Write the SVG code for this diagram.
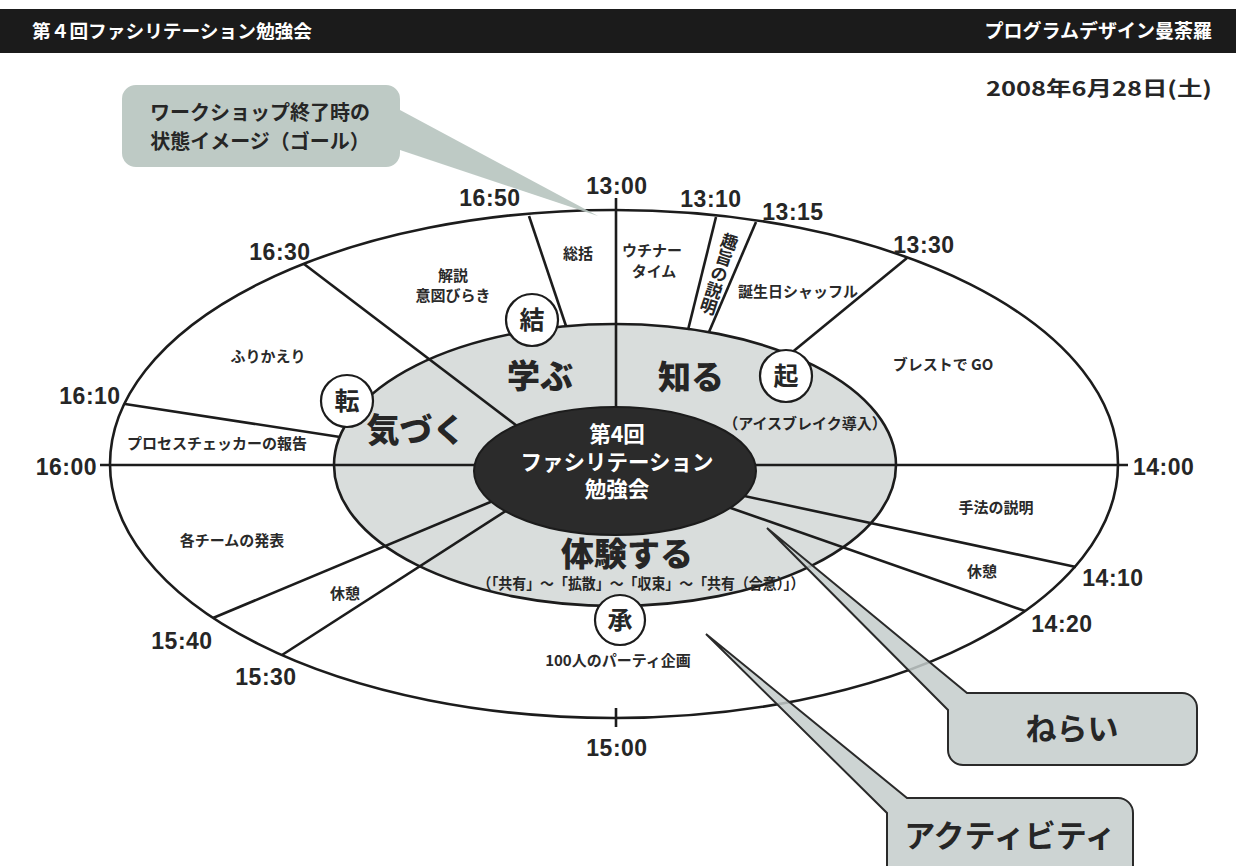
<svg xmlns="http://www.w3.org/2000/svg" width="1236" height="866" viewBox="0 0 1236 866">
<style>
.jp{font-family:"Noto Sans CJK JP","Noto Sans CJK SC",sans-serif;font-weight:700}
.tm{font-family:"Liberation Sans","Noto Sans CJK JP",sans-serif;font-weight:700;font-size:23px;fill:#262626;text-anchor:middle;letter-spacing:0.5px}
.sm{font-size:15px;fill:#2a2a2a;text-anchor:middle}
.big{font-size:33px;fill:#262626;text-anchor:middle;font-weight:900}
.ch{font-size:25px;fill:#262626;text-anchor:middle}
.ln{stroke:#1c1c1c;stroke-width:2.6;fill:none;stroke-linecap:butt}
.ring{stroke:#1c1c1c;stroke-width:2.6}
.circ{fill:#ffffff;stroke:#1c1c1c;stroke-width:2.2}
.call{fill:#c4cccb;fill-opacity:0.85;stroke:#2a2a2a;stroke-width:2}
</style>
<rect width="1236" height="866" fill="#ffffff"/>
<g id="header">
<rect x="0" y="9" width="1236" height="44" fill="#1b1b1b"/>
<text x="32" y="38" class="jp" font-size="18.5" fill="#ffffff" textLength="280" lengthAdjust="spacingAndGlyphs">第４回ファシリテーション勉強会</text>
<text x="1212" y="38" class="jp" font-size="19" fill="#ffffff" text-anchor="end">プログラムデザイン曼荼羅</text>
<text x="1212" y="96" class="jp" font-size="20" fill="#262626" text-anchor="end" textLength="226" lengthAdjust="spacingAndGlyphs">2008年6月28日(土)</text>
</g>
<g id="outer-ring">
<ellipse cx="614" cy="464" rx="504" ry="254" fill="#ffffff" class="ring"/>
</g>
<g id="middle-ring">
<ellipse cx="615" cy="465" rx="281" ry="141" fill="#d9dddc" class="ring"/>
</g>
<g id="connectors" class="ln">
<path d="M616 198V420"/>
<path d="M100 465H490"/>
<path d="M740 465H1128"/>
<path d="M616 708V727"/>
<path d="M529 216L566 326"/>
<path d="M716 217L688 330"/>
<path d="M756 222L709 332"/>
<path d="M907 258L790 354"/>
<path d="M304 264L525 432"/>
<path d="M125 404L340 437"/>
<path d="M213 618L500 498"/>
<path d="M282 655L515 505"/>
<path d="M735 494L1076 567"/>
<path d="M725 506L1025 611"/>
</g>
<g id="center">
<ellipse cx="615" cy="471" rx="141" ry="64" fill="#2b2b2b" stroke="#1c1c1c" stroke-width="2"/>
<text class="jp" font-size="21.5" fill="#ffffff" text-anchor="middle"><tspan x="617" y="442">第4回</tspan><tspan x="617" y="470">ファシリテーション</tspan><tspan x="617" y="497">勉強会</tspan></text>
</g>
<g id="phase-ki"><circle cx="786" cy="376" r="26" class="circ"/><text x="786" y="385" class="jp ch">起</text></g>
<g id="phase-sho"><circle cx="620" cy="620" r="25" class="circ"/><text x="620" y="629" class="jp ch">承</text></g>
<g id="phase-ten"><circle cx="347" cy="401" r="26" class="circ"/><text x="347" y="410" class="jp ch">転</text></g>
<g id="phase-ketsu"><circle cx="532" cy="320" r="26" class="circ"/><text x="532" y="329" class="jp ch">結</text></g>
<g id="aims">
<text x="540" y="388" class="jp big">学ぶ</text>
<text x="691" y="389" class="jp big">知る</text>
<text x="416" y="442" class="jp big">気づく</text>
<text x="627" y="566" class="jp big">体験する</text>
<text x="641" y="589" class="jp" font-size="15" fill="#262626" text-anchor="middle" textLength="327" lengthAdjust="spacingAndGlyphs">（「共有」～「拡散」～「収束」～「共有（合意）」）</text>
<text x="805" y="429" class="jp" font-size="15" fill="#262626" text-anchor="middle">（アイスブレイク導入）</text>
</g>
<g id="activities">
<text x="578" y="259" class="jp sm">総括</text>
<text x="652" y="256" class="jp sm">ウチナー</text>
<text x="654" y="277" class="jp sm">タイム</text>
<text transform="translate(719 274) rotate(18)" class="jp" font-size="17" fill="#262626" text-anchor="middle" style="writing-mode:vertical-rl">趣旨の説明</text>
<text x="798" y="297" class="jp sm">誕生日シャッフル</text>
<text x="943" y="370" class="jp sm">ブレストで GO</text>
<text x="996" y="513" class="jp sm">手法の説明</text>
<text x="982" y="577" class="jp sm">休憩</text>
<text x="618" y="666" class="jp sm">100人のパーティ企画</text>
<text x="345" y="599" class="jp sm">休憩</text>
<text x="232" y="546" class="jp sm">各チームの発表</text>
<text x="217" y="449" class="jp sm">プロセスチェッカーの報告</text>
<text x="268" y="362" class="jp sm">ふりかえり</text>
<text x="453" y="281" class="jp sm">解説</text>
<text x="453" y="301" class="jp sm">意図びらき</text>
</g>
<g id="times">
<text x="617" y="194" class="tm">13:00</text>
<text x="711" y="207" class="tm">13:10</text>
<text x="793" y="220" class="tm">13:15</text>
<text x="924" y="253" class="tm">13:30</text>
<text x="1133" y="475" class="tm" style="text-anchor:start">14:00</text>
<text x="1113" y="586" class="tm">14:10</text>
<text x="1062" y="632" class="tm">14:20</text>
<text x="617" y="756" class="tm">15:00</text>
<text x="266" y="685" class="tm">15:30</text>
<text x="182" y="649" class="tm">15:40</text>
<text x="97" y="475" class="tm" style="text-anchor:end">16:00</text>
<text x="90" y="404" class="tm">16:10</text>
<text x="280" y="260" class="tm">16:30</text>
<text x="490" y="206" class="tm">16:50</text>
</g>
<g id="callout-goal">
<path d="M136 85H386A14 14 0 0 1 400 99V110L598 216L400 150V153A14 14 0 0 1 386 167H136A14 14 0 0 1 122 153V99A14 14 0 0 1 136 85Z" fill="#b7c4bf" fill-opacity="0.9"/>
<text class="jp" font-size="20" fill="#262626" text-anchor="middle"><tspan x="260" y="120">ワークショップ終了時の</tspan><tspan x="260" y="149">状態イメージ（ゴール）</tspan></text>
</g>
<g id="callout-aim">
<path d="M967 693H1182A15 15 0 0 1 1197 708V750A15 15 0 0 1 1182 765H963A15 15 0 0 1 948 750V710L767 528Z" class="call"/>
<text x="1072" y="740" class="jp" font-size="31" fill="#262626" text-anchor="middle">ねらい</text>
</g>
<g id="callout-activity">
<path d="M907 798H1118A15 15 0 0 1 1133 813V880H887V813L706 634Z" class="call"/>
<text x="1010" y="847" class="jp" font-size="31" fill="#262626" text-anchor="middle">アクティビティ</text>
</g>
</svg>
